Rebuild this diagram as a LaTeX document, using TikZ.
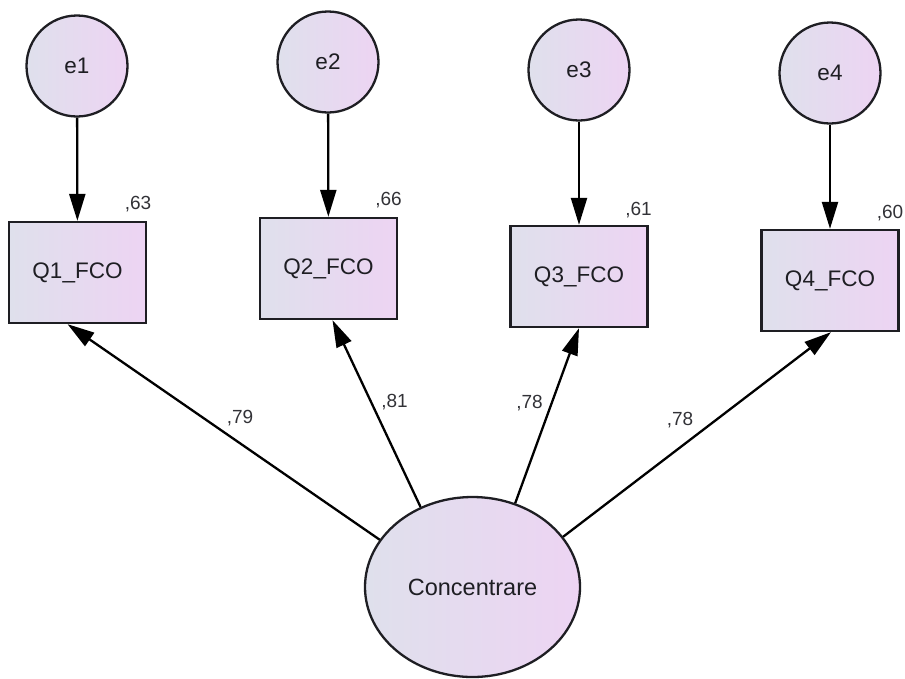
\documentclass[tikz,border=0pt]{standalone}
\usepackage{fontspec}
\setmainfont{Liberation Sans}
\usetikzlibrary{shapes.geometric,arrows.meta}
\definecolor{lavL}{RGB}{223,224,236}
\definecolor{lavR}{RGB}{237,212,243}
\definecolor{ink}{RGB}{30,30,35}
\definecolor{numink}{RGB}{50,50,55}
\tikzset{
  shadefill/.style={draw=ink, line width=2.3pt, left color=lavL, right color=lavR, text=ink,
                    font=\fontsize{22.5}{26}\selectfont, inner sep=0pt},
  errvar/.style={shadefill, circle, minimum size=101pt},
  obsvar/.style={shadefill, rectangle, minimum width=137pt, minimum height=101pt},
  latvar/.style={shadefill, ellipse, minimum width=215pt, minimum height=180pt,
                 font=\fontsize{23.5}{27}\selectfont},
  coef/.style={text=numink, font=\fontsize{19}{22}\selectfont, inner sep=0pt},
  path/.style={line width=2.3pt, draw=black, -{Triangle[length=27pt,width=16pt]}}
}
\begin{document}
\begin{tikzpicture}[x=1pt,y=-1pt]
\useasboundingbox (0,0) rectangle (905,678);

% error terms
\node[errvar] (e1) at (77,66) {e1};
\node[errvar] (e2) at (328,62) {e2};
\node[errvar] (e3) at (579,70) {e3};
\node[errvar] (e4) at (830,73) {e4};

% observed indicators
\node[obsvar] (Q1) at (77.5,272.5) {Q1\_FCO};
\node[obsvar] (Q2) at (328.5,268.5) {Q2\_FCO};
\node[obsvar] (Q3) at (579,276.5) {Q3\_FCO};
\node[obsvar] (Q4) at (830,280.5) {Q4\_FCO};

% latent factor
\node[latvar] (C) at (472.5,587) {Concentrare};

% error paths
\draw[path] (e1) -- (Q1);
\draw[path] (e2) -- (Q2);
\draw[path] (e3) -- (Q3);
\draw[path] (e4) -- (Q4);

% factor loadings
\draw[path] (C.153) -- ([xshift=-10pt]Q1.south);
\draw[path] (C.123.6) -- ([xshift=4pt]Q2.south);
\draw[path] (C.63.4) -- (Q3.south);
\draw[path] (C.29.9) -- ([xshift=1pt]Q4.south);

% squared multiple correlations
\node[coef] (r1) at (138,204) {,63};
\node[coef] (r2) at (388.5,200) {,66};
\node[coef] (r3) at (638.5,210) {,61};
\node[coef] (r4) at (890,213) {,60};

% standardized loadings
\node[coef] (l1) at (240,418) {,79};
\node[coef] (l2) at (394.5,402) {,81};
\node[coef] (l3) at (529.5,403) {,78};
\node[coef] (l4) at (680,420) {,78};
\end{tikzpicture}
\end{document}
